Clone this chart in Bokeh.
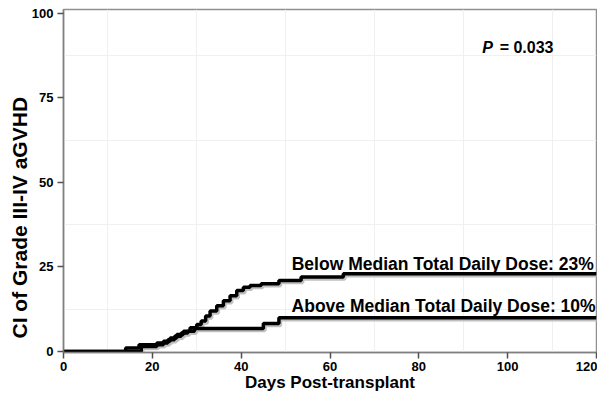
from bokeh.plotting import figure
from bokeh.models import Range1d, FixedTicker, Label, Title
from bokeh.embed import file_html
from bokeh.resources import INLINE

# Cumulative incidence (%) step data
below_days = [0, 14, 17, 22.5, 24, 25.5, 27, 28.5, 30, 31, 32, 33, 34.5, 36, 37.5, 39, 40.5, 42, 44.5, 48.5, 53.5, 63, 120]
below_ci = [0, 1, 2, 3, 4, 5, 6, 7, 8, 9, 10.5, 12, 13.5, 15, 16.5, 18, 19, 19.5, 20, 21, 22, 23, 23]

above_days = [0, 17.5, 21, 23.5, 25, 26.5, 28, 29.5, 45, 48.5, 120]
above_ci = [0, 1.5, 2.5, 3.5, 4.5, 5.5, 6, 6.8, 8.3, 10, 10]

x_ticks = [0, 20, 40, 60, 80, 100, 120]
y_ticks = [0, 25, 50, 75, 100]
x_grid = [10, 30, 50, 70, 90, 110]
y_grid = [12.5, 37.5, 62.5, 87.5]

x_title = "Days Post-transplant"
y_title = "CI of Grade III-IV aGVHD"
label_below = "Below Median Total Daily Dose: 23%"
label_above = "Above Median Total Daily Dose: 10%"
p_label = "P"
p_value = "= 0.033"

FONT = "Liberation Sans"

p = figure(width=597, height=394, output_backend="svg", toolbar_location=None,
           x_range=Range1d(0, 120), y_range=Range1d(-0.3, 101.1),
           min_border_left=63, min_border_right=1, min_border_top=9, min_border_bottom=38)

p.background_fill_color = "white"
p.border_fill_color = "white"
p.outline_line_color = "#909090"
p.outline_line_width = 1.5

p.xgrid.ticker = FixedTicker(ticks=x_grid)
p.ygrid.ticker = FixedTicker(ticks=y_grid)
p.xgrid.grid_line_color = "#f0f0f0"
p.ygrid.grid_line_color = "#f0f0f0"

for ax in (p.xaxis[0], p.yaxis[0]):
    ax.axis_line_color = "#808080"
    ax.axis_line_width = 1.5
    ax.major_tick_line_color = "#505050"
    ax.major_tick_line_width = 1.5
    ax.major_tick_out = 6
    ax.major_tick_in = 0
    ax.minor_tick_line_color = None
    ax.major_label_text_font = FONT
    ax.major_label_text_font_style = "bold"
    ax.major_label_text_font_size = "13px"
    ax.major_label_text_color = "black"
    ax.major_label_standoff = 4

p.xaxis.ticker = FixedTicker(ticks=x_ticks)
p.yaxis.ticker = FixedTicker(ticks=y_ticks)
p.xaxis.major_label_standoff = 3
p.xaxis.axis_label = x_title
p.xaxis.axis_label_text_font = FONT
p.xaxis.axis_label_text_font_style = "bold"
p.xaxis.axis_label_text_font_size = "17px"
p.xaxis.axis_label_text_color = "black"
p.xaxis.axis_label_standoff = -1

p.add_layout(Title(text=y_title, align="left", offset=14, standoff=-5,
                   text_font=FONT, text_font_style="bold", text_font_size="21px",
                   text_color="black"), "left")

# soft shadow under the curves, then the curves
p.step([d + 0.35 for d in above_days], [v - 0.6 for v in above_ci], mode="after",
       line_color="#c0c0c0", line_width=3.5)
p.step([d + 0.35 for d in below_days], [v - 0.6 for v in below_ci], mode="after",
       line_color="#c0c0c0", line_width=3.5)
p.step(above_days, above_ci, mode="after", line_color="black", line_width=3.5)
p.step(below_days, below_ci, mode="after", line_color="black", line_width=3.5)

# annotations
p.add_layout(Label(x=119.4, y=26.0, text=label_below, text_align="right",
                   text_baseline="alphabetic", text_font=FONT, text_font_style="bold",
                   text_font_size="17.5px", text_color="black"))
p.add_layout(Label(x=119.8, y=13.3, text=label_above, text_align="right",
                   text_baseline="alphabetic", text_font=FONT, text_font_style="bold",
                   text_font_size="17.5px", text_color="black"))
p.add_layout(Label(x=94.3, y=89.8, text=p_label, text_align="left",
                   text_baseline="alphabetic", text_font=FONT, text_font_style="bold italic",
                   text_font_size="16px", text_color="black"))
p.add_layout(Label(x=98.2, y=89.8, text=p_value, text_align="left",
                   text_baseline="alphabetic", text_font=FONT, text_font_style="bold",
                   text_font_size="16px", text_color="black"))

open("out.html", "w").write(file_html(p, INLINE))
